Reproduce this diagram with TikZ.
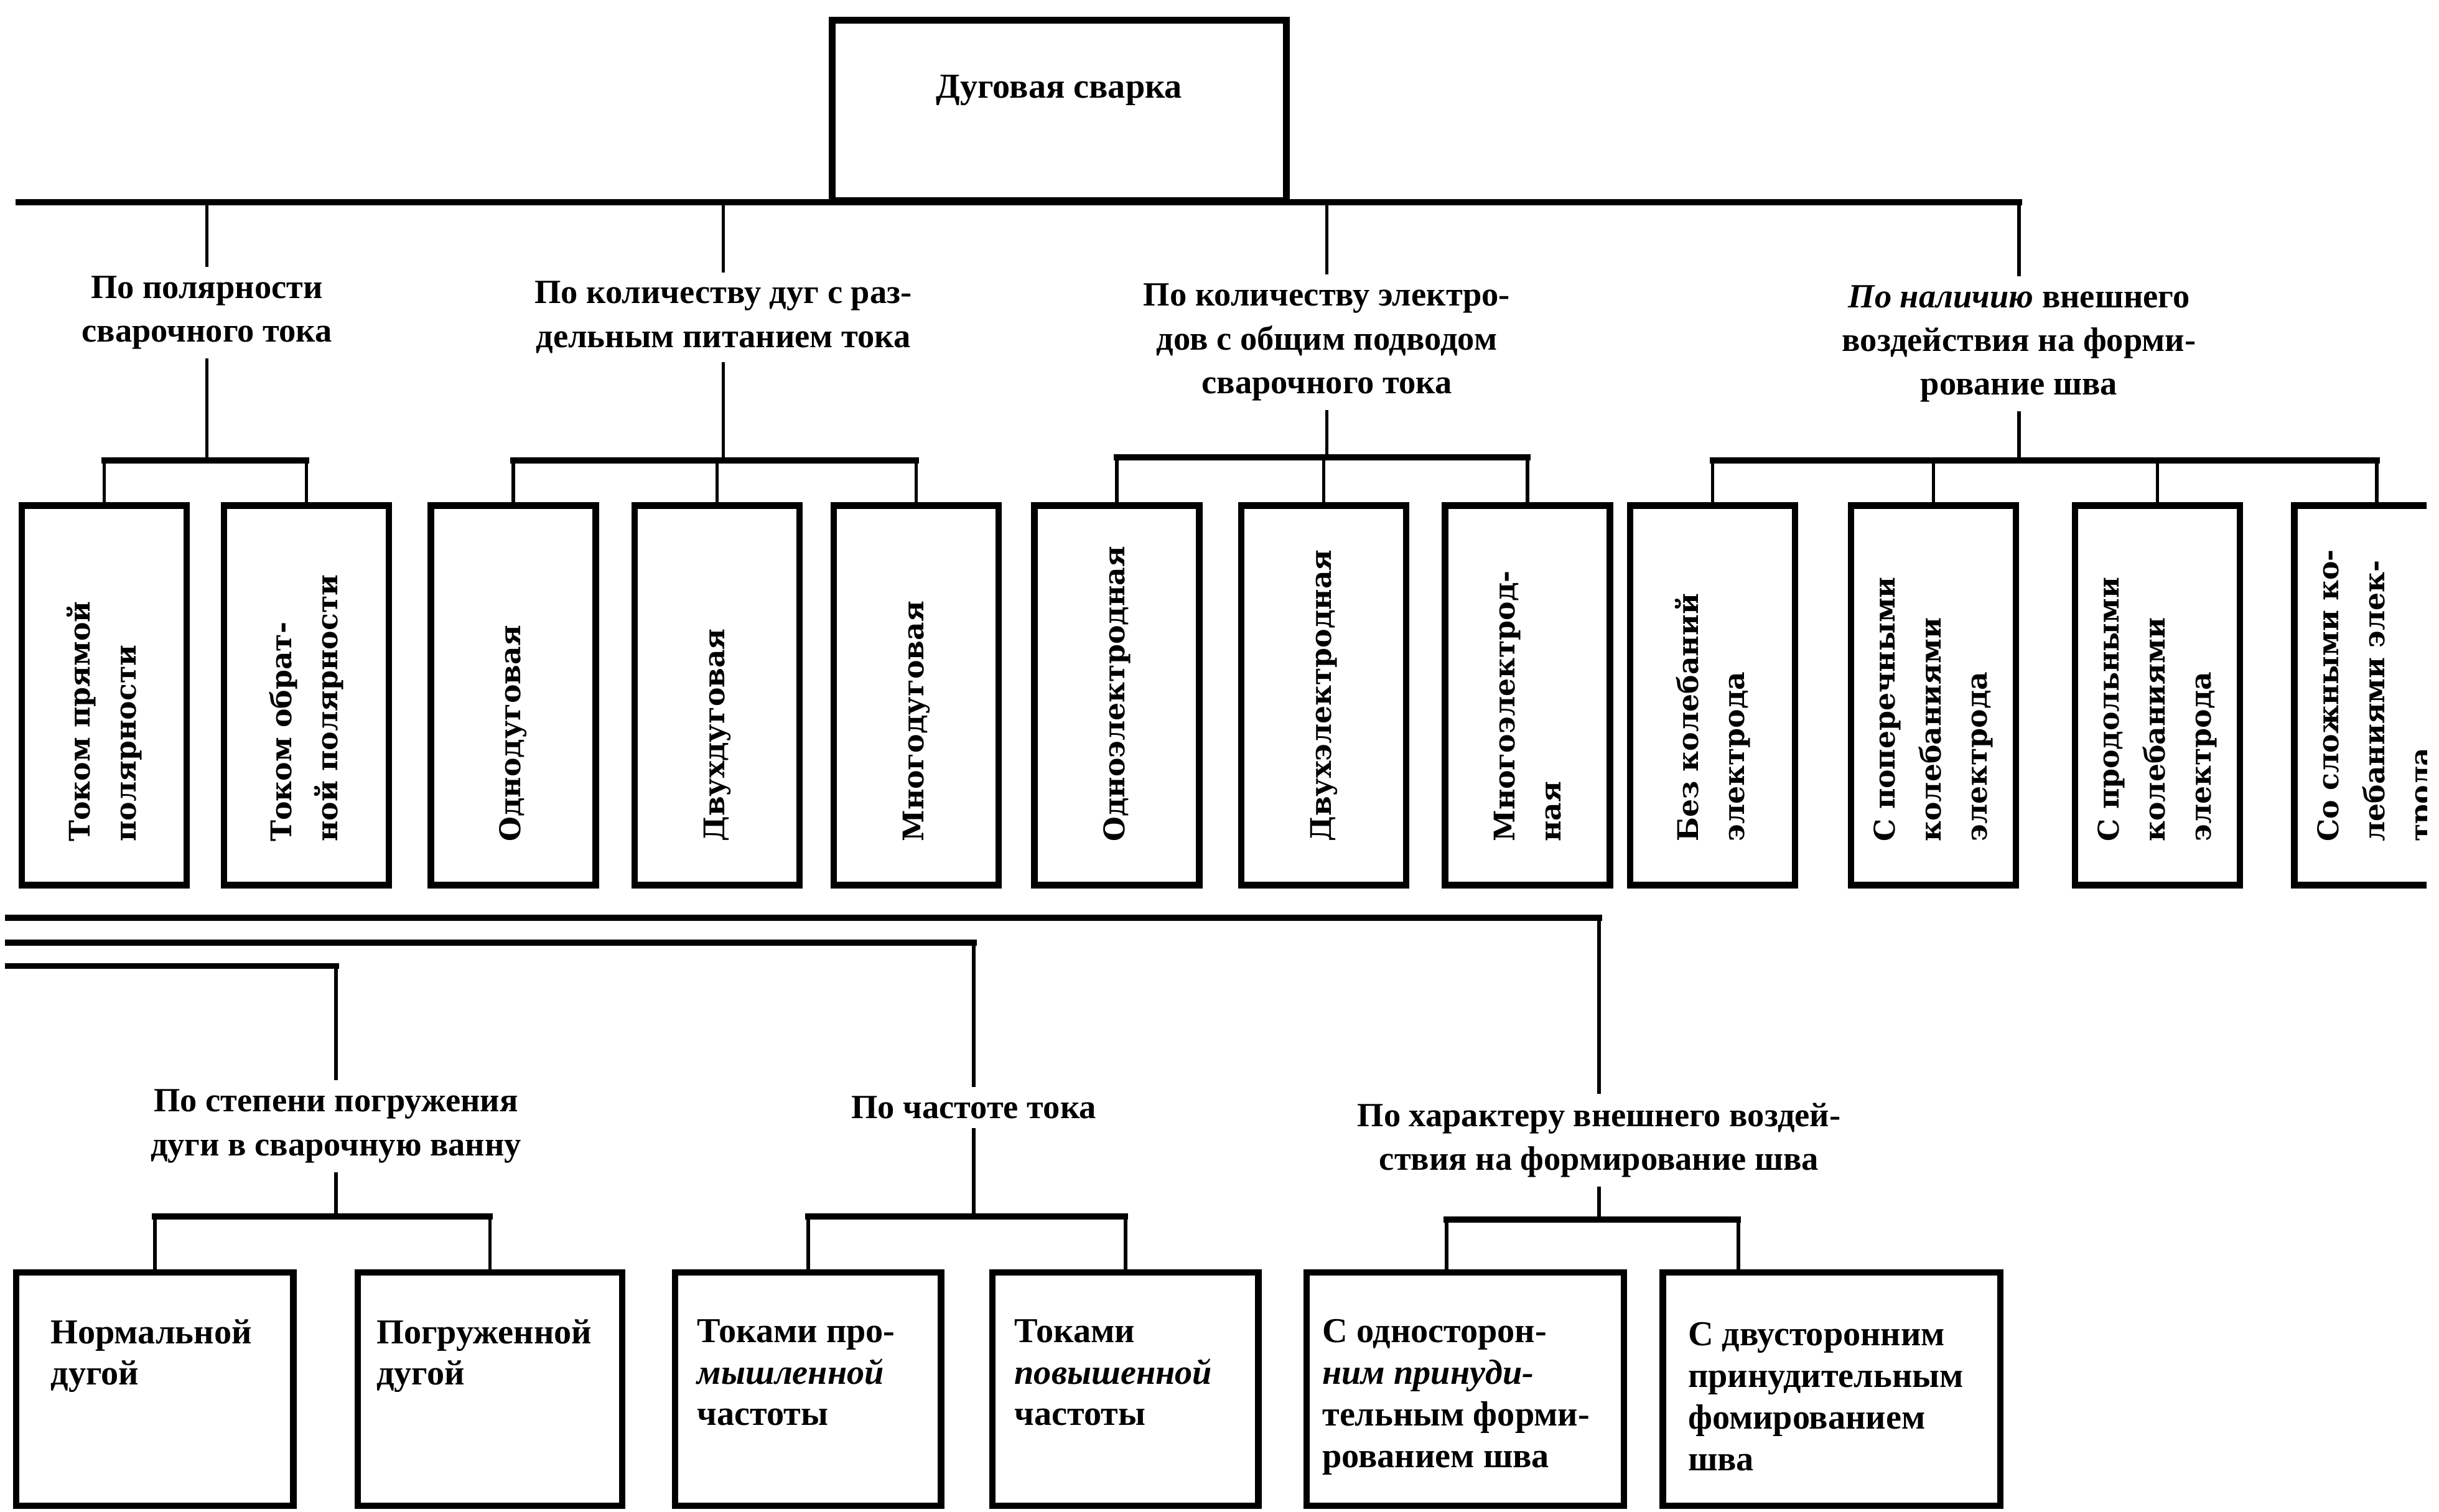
\documentclass[tikz,border=0pt]{standalone}
\usepackage{fontspec}
\setmainfont{Liberation Serif}
\newfontfamily\vertfont{DejaVu Serif}
\usetikzlibrary{positioning}

\tikzset{
  box/.style={draw, line width=3pt},
  rootbox/.style={box, minimum width=7.3cm, minimum height=2.9cm, text depth=22pt,
    font=\bfseries\fontsize{16}{19}\selectfont},
  vbox/.style={box, rotate=90, minimum width=6.1cm, minimum height=2.65cm,
    inner xsep=0.7cm, text width=4.7cm, align=left,
    font=\vertfont\bfseries\fontsize{13}{21}\selectfont},
  lowbox/.style={box, minimum height=3.75cm},
  lowtext/.style={anchor=north west, align=left, inner sep=0pt,
    font=\bfseries\fontsize{16}{19}\selectfont},
  cat/.style={align=center, inner sep=4pt, font=\bfseries\fontsize{15.5}{20}\selectfont},
  link/.style={line width=1.6pt},
  bus/.style={line width=2.6pt, line cap=rect},
}

\begin{document}
\begin{tikzpicture}[x=0.025cm, y=-0.025cm]
  \useasboundingbox (0,0) rectangle (1568,972);
  \clip (0,0) rectangle (1560,972);

  % root
  \node[rootbox] (root) at (681,71) {Дуговая сварка};

  % first level
  \node[cat] (l1) at (133,201) {По полярности\\сварочного тока};
  \node[cat] (l2) at (465,204) {По количеству дуг с раз-\\дельным питанием тока};
  \node[cat] (l3) at (853,220) {По количеству электро-\\дов с общим подводом\\сварочного тока};
  \node[cat] (l4) at (1298,221) {\textit{По наличию} внешнего\\воздействия на форми-\\рование шва};

  \coordinate (bus0) at (12,130);
  \draw[link] (root.south) -- (root.south |- bus0);
  \draw[bus] (bus0) -- (bus0 -| l4.north);
  \foreach \l in {l1,l2,l3,l4}
    \draw[link] (\l.north |- bus0) -- (\l.north);

  % second level, upper row
  \node[vbox] (b1) at (67,447) {Током прямой\\полярности};
  \node[vbox] (b2) at (197,447) {Током обрат-\\ной полярности};
  \node[vbox] (b3) at (330,447) {Однодуговая};
  \node[vbox] (b4) at (461,447) {Двухдуговая};
  \node[vbox] (b5) at (589,447) {Многодуговая};
  \node[vbox] (b6) at (718,447) {Одноэлектродная};
  \node[vbox] (b7) at (851,447) {Двухэлектродная};
  \node[vbox] (b8) at (982,447) {Многоэлектрод-\\ная};
  \node[vbox] (b9) at (1101,447) {Без колебаний\\электрода};
  \node[vbox] (b10) at (1243,447) {С поперечными\\колебаниями\\электрода};
  \node[vbox] (b11) at (1387,447) {С продольными\\колебаниями\\электрода};
  \node[vbox] (b12) at (1528,447) {Со сложными ко-\\лебаниями элек-\\трода};

  \coordinate (g1) at (133,296);
  \coordinate (g2) at (465,296);
  \coordinate (g3) at (853,294);
  \coordinate (g4) at (1298,296);
  \foreach \l/\g in {l1/g1,l2/g2,l3/g3,l4/g4}
    \draw[link] (\l.south) -- (\g);

  \draw[bus] (b1.east |- g1) -- (b2.east |- g1);
  \draw[bus] (b3.east |- g2) -- (b5.east |- g2);
  \draw[bus] (b6.east |- g3) -- (b8.east |- g3);
  \draw[bus] (b9.east |- g4) -- (b12.east |- g4);
  \foreach \b/\g in {b1/g1,b2/g1,b3/g2,b4/g2,b5/g2,b6/g3,b7/g3,b8/g3,
                     b9/g4,b10/g4,b11/g4,b12/g4}
    \draw[link] (\b.east |- \g) -- (\b.east);

  % further classification
  \node[cat] (l5) at (216,724) {По степени погружения\\дуги в сварочную ванну};
  \node[cat] (l6) at (626,712) {По частоте тока};
  \node[cat] (l7) at (1028,733) {По характеру внешнего воздей-\\ствия на формирование шва};

  \coordinate (w1) at (5,590);
  \coordinate (w2) at (5,606);
  \coordinate (w3) at (5,621);
  \draw[bus] (w1) -- (w1 -| l7.north);
  \draw[bus] (w2) -- (w2 -| l6.north);
  \draw[bus] (w3) -- (w3 -| l5.north);
  \draw[link] (w1 -| l7.north) -- (l7.north);
  \draw[link] (w2 -| l6.north) -- (l6.north);
  \draw[link] (w3 -| l5.north) -- (l5.north);

  % lower row
  \node[lowbox, minimum width=4.45cm] (bA) at (99.5,893) {};
  \node[lowbox, minimum width=4.25cm] (bB) at (315,893) {};
  \node[lowbox, minimum width=4.27cm] (bC) at (519.5,893) {};
  \node[lowbox, minimum width=4.27cm] (bD) at (723.5,893) {};
  \node[lowbox, minimum width=5.1cm] (bE) at (942,893) {};
  \node[lowbox, minimum width=5.42cm] (bF) at (1177.5,893) {};

  \node[lowtext] (tA) at ([xshift=0.6cm, yshift=-0.8cm]bA.north west) {Нормальной\\дугой};
  \node[lowtext] (tB) at ([xshift=0.35cm, yshift=-0.8cm]bB.north west) {Погруженной\\дугой};
  \node[lowtext] (tC) at ([xshift=0.4cm, yshift=-0.8cm]bC.north west) {Токами про-\\\textit{мышленной}\\частоты};
  \node[lowtext] (tD) at ([xshift=0.4cm, yshift=-0.8cm]bD.north west) {Токами\\\textit{повышенной}\\частоты};
  \node[lowtext] (tE) at ([xshift=0.3cm, yshift=-0.8cm]bE.north west) {С односторон-\\\textit{ним принуди-}\\тельным форми-\\рованием шва};
  \node[lowtext] (tF) at ([xshift=0.45cm, yshift=-0.85cm]bF.north west) {С двусторонним\\принудительным\\фомированием\\шва};

  \coordinate (g5) at (216,782);
  \coordinate (g6) at (626,782);
  \coordinate (g7) at (1028,784);
  \foreach \l/\g in {l5/g5,l6/g6,l7/g7}
    \draw[link] (\l.south) -- (\g);

  \coordinate (fE) at ([xshift=-0.3cm]bE.north);
  \coordinate (fF) at ([xshift=-1.5cm]bF.north);
  \draw[bus] (bA.north |- g5) -- (bB.north |- g5);
  \draw[bus] (bC.north |- g6) -- (bD.north |- g6);
  \draw[bus] (fE |- g7) -- (fF |- g7);
  \foreach \b/\g in {bA.north/g5,bB.north/g5,bC.north/g6,bD.north/g6,fE/g7,fF/g7}
    \draw[link] (\b |- \g) -- (\b);
\end{tikzpicture}
\end{document}
